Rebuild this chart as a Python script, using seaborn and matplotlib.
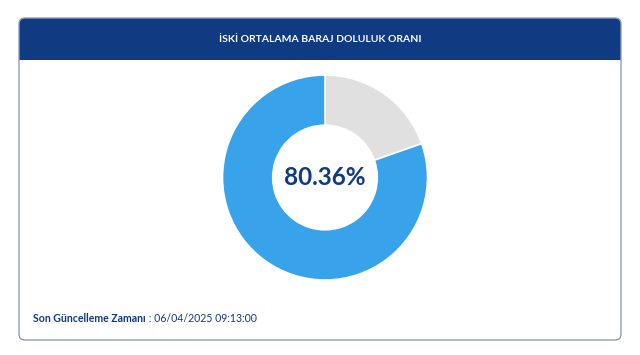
import matplotlib
matplotlib.use("Agg")
import matplotlib.pyplot as plt
from matplotlib.patches import FancyBboxPatch, Rectangle
import seaborn as sns

# Dam fill ratio data
segments = ["Boş", "Dolu"]
values = [19.64, 80.36]
fill_label = "80.36%"
title = "İSKİ ORTALAMA BARAJ DOLULUK ORANI"
update_label = "Son Güncelleme Zamanı"
update_time = " : 06/04/2025 09:13:00"

sns.set_theme(style="white")
plt.rcParams['font.family'] = ['Lato', 'DejaVu Sans']

navy = "#103A82"
colors = ["#E0E0E0", "#38A3EA"]

W, H = 640, 355
fig = plt.figure(figsize=(W / 100, H / 100), dpi=100)
fig.patch.set_facecolor("white")

# background axes in pixel coordinates (y downwards)
bg = fig.add_axes([0, 0, 1, 1])
bg.set_xlim(0, W)
bg.set_ylim(H, 0)
bg.axis("off")

x0, x1, y0, y1 = 19, 621, 18, 340
r = 6
header = FancyBboxPatch((x0, y0), x1 - x0, 42,
                        boxstyle=f"round,pad=0,rounding_size={r}",
                        facecolor=navy, edgecolor="none", zorder=2)
bg.add_patch(header)
bg.add_patch(Rectangle((x0, y0 + 30), x1 - x0, 12, facecolor=navy,
                       edgecolor="none", zorder=2))
card = FancyBboxPatch((x0, y0), x1 - x0, y1 - y0,
                      boxstyle=f"round,pad=0,rounding_size={r}",
                      facecolor="none", edgecolor="#8B9CB9", linewidth=1.0,
                      zorder=3)
bg.add_patch(card)

bg.text(320, 40, title, color="white", fontsize=7.5, fontweight="bold",
        ha="center", va="center", zorder=4)

t = bg.text(33, 318, update_label, color=navy, fontsize=7.6, fontweight="bold",
            ha="left", va="center")
fig.canvas.draw()
bb = t.get_window_extent()
x_end = bb.x1 * W / fig.bbox.width
bg.text(x_end, 318, update_time, color=navy, fontsize=7.6,
        ha="left", va="center")

# donut
cx, cy, R = 325, 177.5, 102.5
ax = fig.add_axes([(cx - R) / W, (H - cy - R) / H, 2 * R / W, 2 * R / H])
ax.pie(values, colors=colors, startangle=90, counterclock=False,
       wedgeprops=dict(width=0.49, edgecolor="white", linewidth=1.2))
ax.set_xlim(-1, 1)
ax.set_ylim(-1, 1)
ax.text(0, 0, fill_label, ha="center", va="center", fontsize=17.5,
        fontweight="bold", color=navy)

fig.savefig("out.png", dpi=100, facecolor="white")
